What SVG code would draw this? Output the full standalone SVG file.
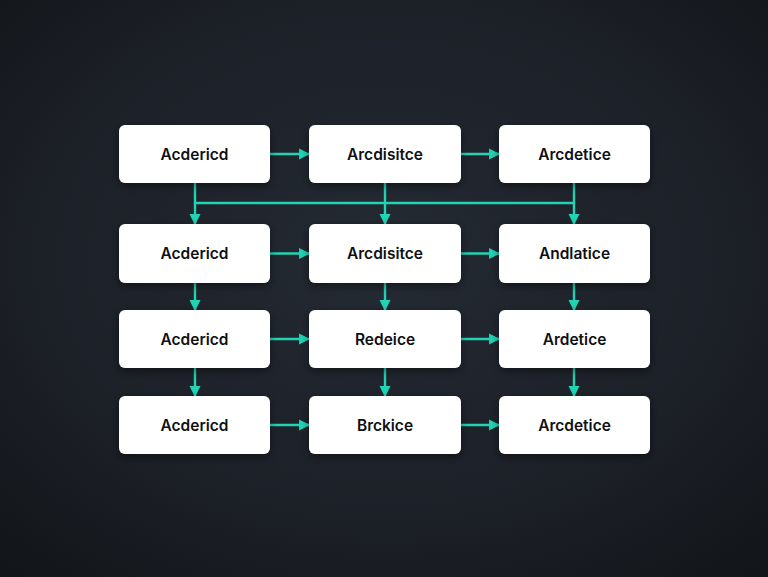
<svg xmlns="http://www.w3.org/2000/svg" width="768" height="577" viewBox="0 0 768 577">
<defs>
<radialGradient id="bg" cx="0.5" cy="0.45" r="0.75">
<stop offset="0" stop-color="#242a33"/>
<stop offset="0.6" stop-color="#1c2027"/>
<stop offset="1" stop-color="#111418"/>
</radialGradient>
<filter id="sh" x="-20%" y="-30%" width="140%" height="170%">
<feDropShadow dx="0" dy="3" stdDeviation="4" flood-color="#000" flood-opacity="0.45"/>
</filter>
<marker id="ah" viewBox="0 0 10 10" refX="9" refY="5" markerWidth="4.6" markerHeight="4.6" orient="auto" markerUnits="strokeWidth">
<path d="M0,0 L10,5 L0,10 z" fill="#22d3b4"/>
</marker>
<style>
.box{fill:#ffffff;filter:url(#sh)}
.lbl{font-family:Inter,"Liberation Sans",sans-serif;font-size:15.5px;font-weight:600;fill:#0e1013;text-anchor:middle;dominant-baseline:central}
.c{stroke:#22d3b4;stroke-width:2.4;fill:none}
.a{marker-end:url(#ah)}
</style>
</defs>
<rect width="768" height="577" fill="url(#bg)"/>
<g id="connectors">
<path class="c" d="M195,183 V203 H574"/>
<path class="c" d="M385,183 V203"/>
<path class="c" d="M574,183 V203"/>
<path class="c a" d="M195,203 V224"/>
<path class="c a" d="M385,203 V224"/>
<path class="c a" d="M574,203 V224"/>
<path class="c a" d="M270,154 H309"/>
<path class="c a" d="M461,154 H499"/>
<path class="c a" d="M270,253.5 H309"/>
<path class="c a" d="M461,253.5 H499"/>
<path class="c a" d="M270,339 H309"/>
<path class="c a" d="M461,339 H499"/>
<path class="c a" d="M270,425 H309"/>
<path class="c a" d="M461,425 H499"/>
<path class="c a" d="M195,283 V310"/>
<path class="c a" d="M385,283 V310"/>
<path class="c a" d="M574,283 V310"/>
<path class="c a" d="M195,368 V396"/>
<path class="c a" d="M385,368 V396"/>
<path class="c a" d="M574,368 V396"/>
</g>
<g id="n11"><rect class="box" x="119" y="125" width="151" height="58" rx="6"/><text class="lbl" x="194.5" y="154">Acdericd</text></g>
<g id="n12"><rect class="box" x="309" y="125" width="152" height="58" rx="6"/><text class="lbl" x="385" y="154">Arcdisitce</text></g>
<g id="n13"><rect class="box" x="499" y="125" width="151" height="58" rx="6"/><text class="lbl" x="574.5" y="154">Arcdetice</text></g>
<g id="n21"><rect class="box" x="119" y="224" width="151" height="59" rx="6"/><text class="lbl" x="194.5" y="253.5">Acdericd</text></g>
<g id="n22"><rect class="box" x="309" y="224" width="152" height="59" rx="6"/><text class="lbl" x="385" y="253.5">Arcdisitce</text></g>
<g id="n23"><rect class="box" x="499" y="224" width="151" height="59" rx="6"/><text class="lbl" x="574.5" y="253.5">Andlatice</text></g>
<g id="n31"><rect class="box" x="119" y="310" width="151" height="58" rx="6"/><text class="lbl" x="194.5" y="339">Acdericd</text></g>
<g id="n32"><rect class="box" x="309" y="310" width="152" height="58" rx="6"/><text class="lbl" x="385" y="339">Redeice</text></g>
<g id="n33"><rect class="box" x="499" y="310" width="151" height="58" rx="6"/><text class="lbl" x="574.5" y="339">Ardetice</text></g>
<g id="n41"><rect class="box" x="119" y="396" width="151" height="58" rx="6"/><text class="lbl" x="194.5" y="425">Acdericd</text></g>
<g id="n42"><rect class="box" x="309" y="396" width="152" height="58" rx="6"/><text class="lbl" x="385" y="425">Brckice</text></g>
<g id="n43"><rect class="box" x="499" y="396" width="151" height="58" rx="6"/><text class="lbl" x="574.5" y="425">Arcdetice</text></g>
</svg>
